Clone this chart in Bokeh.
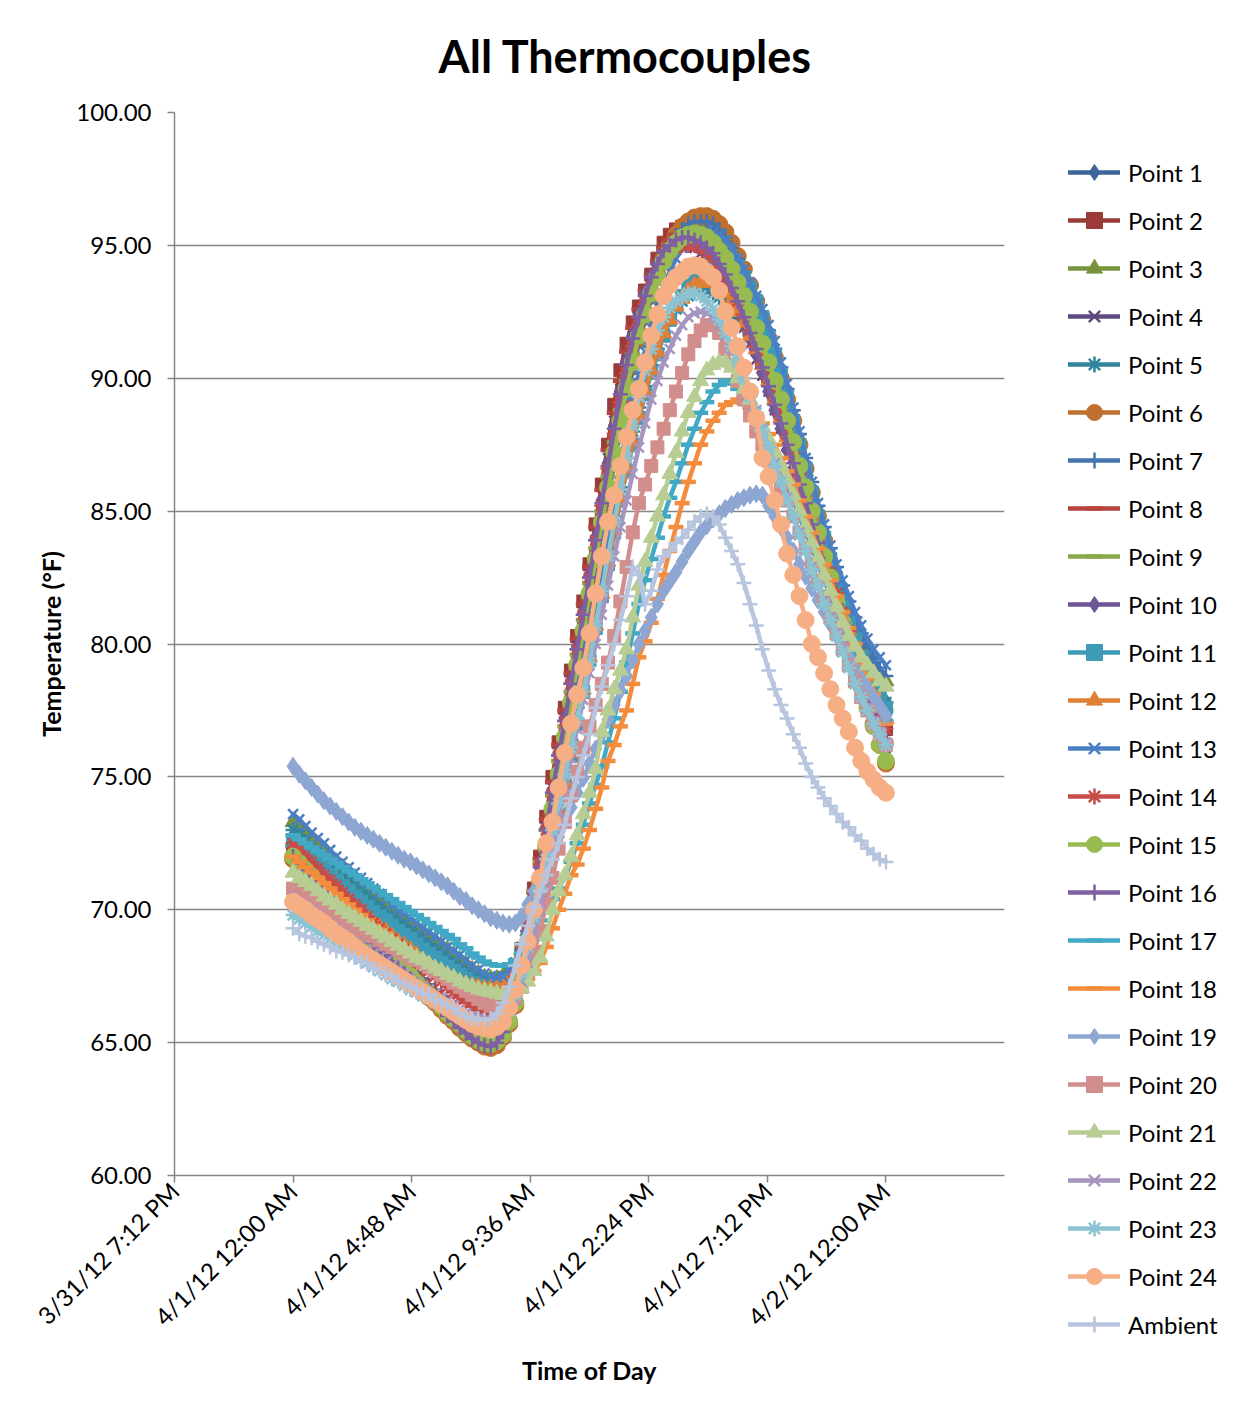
import math
from bokeh.plotting import figure
from bokeh.models import Range1d, FixedTicker, Legend, LegendItem, PrintfTickFormatter
from bokeh.embed import file_html
from bokeh.resources import INLINE

# ---------------- data: readings every 15 minutes from 4/1/12 12:00 AM to 4/2/12 12:00 AM ----------------
point_1 = [72.0, 71.8, 71.5, 71.2, 71.0, 70.7, 70.5, 70.2, 70.0, 69.7, 69.5, 69.2, 69.0, 68.8, 68.55, 68.3, 68.1, 67.9, 67.65, 67.4, 67.2, 67.0, 66.75, 66.5,
           66.3, 66.1, 65.85, 65.6, 65.4, 65.2, 65.05, 64.95, 64.9, 65.05, 65.4, 65.95, 66.7, 67.8, 69.0, 70.1, 71.3, 72.6, 73.9, 75.2, 76.5, 77.9, 79.2, 80.6,
           81.9, 83.2, 84.6, 86.0, 87.3, 88.5, 89.6, 90.7, 91.6, 92.5, 93.2, 93.9, 94.4, 94.9, 95.3, 95.6, 95.8, 95.95, 96.0, 95.95, 95.8, 95.5, 95.1, 94.6,
           94.1, 93.6, 93.0, 92.5, 91.9, 91.3, 90.6, 89.9, 89.1, 88.3, 87.5, 86.6, 85.8, 85.0, 84.2, 83.4, 82.7, 82.0, 81.3, 80.6, 80.0, 79.4, 78.9, 78.3, 77.8]
point_2 = [72.3, 72.05, 71.8, 71.55, 71.3, 71.05, 70.8, 70.55, 70.3, 70.05, 69.8, 69.55, 69.3, 69.05, 68.8, 68.6, 68.35, 68.1, 67.9, 67.65, 67.4, 67.2, 66.95, 66.7,
           66.5, 66.3, 66.05, 65.8, 65.55, 65.3, 65.15, 65.05, 65.0, 65.2, 65.6, 66.3, 67.3, 68.4, 69.6, 70.8, 72.0, 73.5, 75.0, 76.3, 77.6, 79.0, 80.3, 81.6,
           83.0, 84.5, 86.0, 87.5, 89.0, 90.3, 91.3, 92.1, 92.7, 93.3, 93.9, 94.5, 95.1, 95.4, 95.6, 95.7, 95.7, 95.65, 95.5, 95.3, 95.0, 94.6, 94.2, 93.7,
           93.2, 92.7, 92.1, 91.5, 90.9, 90.3, 89.6, 88.9, 88.2, 87.5, 86.7, 86.0, 85.2, 84.5, 83.7, 83.0, 82.3, 81.6, 80.9, 80.2, 79.6, 78.9, 78.2, 77.5, 76.8]
point_3 = [73.3, 73.1, 72.85, 72.6, 72.4, 72.2, 72.0, 71.8, 71.6, 71.4, 71.2, 71.0, 70.8, 70.6, 70.4, 70.2, 70.05, 69.9, 69.7, 69.5, 69.35, 69.2, 69.0, 68.8,
           68.65, 68.5, 68.3, 68.1, 67.95, 67.75, 67.6, 67.45, 67.4, 67.4, 67.5, 67.65, 67.9, 68.5, 69.2, 70.2, 71.2, 72.4, 73.6, 74.9, 76.2, 77.5, 78.9, 80.2,
           81.6, 82.9, 84.2, 85.5, 86.8, 88.0, 89.2, 90.3, 91.3, 92.2, 93.0, 93.7, 94.3, 94.8, 95.2, 95.45, 95.6, 95.65, 95.6, 95.5, 95.3, 95.0, 94.7, 94.3,
           93.8, 93.3, 92.8, 92.3, 91.7, 91.1, 90.4, 89.7, 88.9, 88.1, 87.3, 86.5, 85.6, 84.8, 84.0, 83.3, 82.6, 81.9, 81.3, 80.7, 80.2, 79.7, 79.3, 78.9, 78.6]
point_4 = [72.1, 71.85, 71.6, 71.35, 71.1, 70.85, 70.6, 70.35, 70.1, 69.85, 69.6, 69.35, 69.1, 68.9, 68.65, 68.4, 68.2, 68.0, 67.75, 67.5, 67.3, 67.1, 66.85, 66.6,
           66.4, 66.2, 65.95, 65.7, 65.5, 65.3, 65.1, 65.0, 64.95, 65.1, 65.5, 66.2, 67.1, 68.2, 69.4, 70.6, 71.8, 73.2, 74.6, 76.0, 77.3, 78.7, 80.0, 81.3,
           82.7, 84.2, 85.6, 87.0, 88.4, 89.6, 90.7, 91.6, 92.4, 93.1, 93.7, 94.2, 94.6, 94.85, 95.0, 95.05, 95.0, 94.9, 94.7, 94.5, 94.2, 93.8, 93.4, 92.9,
           92.4, 91.9, 91.3, 90.7, 90.1, 89.5, 88.8, 88.1, 87.4, 86.7, 85.9, 85.2, 84.4, 83.7, 82.9, 82.2, 81.5, 80.8, 80.1, 79.4, 78.8, 78.2, 77.6, 77.0, 76.5]
point_5 = [73.0, 72.8, 72.55, 72.3, 72.1, 71.9, 71.7, 71.5, 71.3, 71.1, 70.9, 70.7, 70.5, 70.3, 70.1, 69.9, 69.75, 69.6, 69.4, 69.2, 69.05, 68.9, 68.7, 68.5,
           68.35, 68.2, 68.0, 67.85, 67.7, 67.55, 67.45, 67.35, 67.3, 67.3, 67.4, 67.65, 68.0, 68.5, 69.2, 70.0, 70.9, 71.9, 73.0, 74.1, 75.3, 76.4, 77.6, 78.8,
           80.0, 81.2, 82.4, 83.6, 84.8, 85.9, 87.0, 88.0, 88.9, 89.7, 90.5, 91.1, 91.7, 92.2, 92.6, 92.9, 93.1, 93.25, 93.3, 93.3, 93.2, 93.05, 92.9, 92.6,
           92.3, 92.0, 91.6, 91.2, 90.7, 90.2, 89.6, 89.0, 88.3, 87.6, 86.9, 86.2, 85.4, 84.7, 83.9, 83.2, 82.5, 81.8, 81.2, 80.6, 80.0, 79.4, 78.9, 78.3, 77.8]
point_6 = [71.9, 71.65, 71.4, 71.15, 70.9, 70.65, 70.4, 70.15, 69.9, 69.65, 69.4, 69.2, 68.95, 68.7, 68.5, 68.3, 68.05, 67.8, 67.6, 67.4, 67.15, 66.9, 66.7, 66.5,
           66.25, 66.0, 65.8, 65.55, 65.35, 65.15, 65.0, 64.85, 64.8, 64.9, 65.2, 65.7, 66.4, 67.4, 68.6, 69.8, 71.0, 72.3, 73.6, 74.9, 76.3, 77.6, 79.0, 80.3,
           81.7, 83.0, 84.4, 85.7, 87.0, 88.2, 89.4, 90.5, 91.5, 92.4, 93.2, 93.9, 94.5, 95.0, 95.4, 95.7, 95.9, 96.05, 96.1, 96.1, 96.0, 95.8, 95.5, 95.1,
           94.6, 94.1, 93.5, 92.9, 92.2, 91.5, 90.8, 90.0, 89.2, 88.4, 87.5, 86.6, 85.7, 84.8, 83.9, 83.0, 82.1, 81.2, 80.4, 79.5, 78.7, 77.8, 77.0, 76.2, 75.5]
point_7 = [72.4, 72.15, 71.9, 71.65, 71.4, 71.15, 70.9, 70.65, 70.4, 70.15, 69.9, 69.7, 69.45, 69.2, 69.0, 68.8, 68.55, 68.3, 68.1, 67.9, 67.65, 67.4, 67.2, 67.0,
           66.75, 66.5, 66.3, 66.1, 65.85, 65.6, 65.4, 65.25, 65.2, 65.3, 65.5, 65.95, 66.6, 67.6, 68.7, 69.8, 71.0, 72.3, 73.6, 74.9, 76.2, 77.5, 78.9, 80.2,
           81.6, 83.0, 84.3, 85.6, 86.9, 88.1, 89.3, 90.4, 91.4, 92.3, 93.1, 93.8, 94.4, 94.9, 95.3, 95.6, 95.8, 95.9, 95.9, 95.9, 95.8, 95.6, 95.3, 94.9,
           94.5, 94.0, 93.5, 93.0, 92.4, 91.8, 91.1, 90.4, 89.6, 88.8, 87.9, 87.0, 86.1, 85.2, 84.4, 83.6, 82.9, 82.2, 81.6, 81.0, 80.4, 79.9, 79.5, 79.1, 78.8]
point_8 = [72.4, 72.15, 71.9, 71.65, 71.4, 71.15, 70.9, 70.65, 70.4, 70.15, 69.9, 69.65, 69.4, 69.15, 68.9, 68.7, 68.45, 68.2, 68.0, 67.8, 67.55, 67.3, 67.1, 66.9,
           66.65, 66.4, 66.2, 66.0, 65.75, 65.55, 65.35, 65.2, 65.15, 65.3, 65.7, 66.4, 67.2, 68.3, 69.5, 70.7, 71.9, 73.4, 74.8, 76.2, 77.5, 78.9, 80.2, 81.5,
           82.9, 84.4, 85.8, 87.3, 88.7, 89.9, 91.0, 91.9, 92.6, 93.3, 93.9, 94.4, 94.9, 95.2, 95.4, 95.45, 95.4, 95.3, 95.1, 94.9, 94.6, 94.2, 93.8, 93.3,
           92.8, 92.3, 91.7, 91.1, 90.5, 89.9, 89.2, 88.5, 87.8, 87.1, 86.3, 85.6, 84.8, 84.1, 83.3, 82.6, 81.8, 81.1, 80.4, 79.7, 79.0, 78.3, 77.6, 77.0, 76.3]
point_9 = [72.8, 72.6, 72.35, 72.1, 71.9, 71.7, 71.45, 71.2, 71.0, 70.8, 70.55, 70.3, 70.1, 69.9, 69.7, 69.5, 69.3, 69.1, 68.9, 68.7, 68.5, 68.3, 68.1, 67.9,
           67.7, 67.5, 67.3, 67.1, 66.95, 66.8, 66.65, 66.55, 66.5, 66.6, 66.8, 67.2, 67.8, 68.7, 69.7, 70.7, 71.8, 73.0, 74.3, 75.6, 76.9, 78.2, 79.6, 80.9,
           82.3, 83.6, 85.0, 86.3, 87.6, 88.8, 89.9, 90.9, 91.8, 92.6, 93.3, 93.9, 94.5, 94.9, 95.2, 95.4, 95.5, 95.55, 95.5, 95.4, 95.2, 94.9, 94.5, 94.1,
           93.6, 93.1, 92.6, 92.1, 91.5, 90.9, 90.2, 89.5, 88.7, 87.9, 87.1, 86.3, 85.5, 84.7, 83.9, 83.1, 82.4, 81.7, 81.0, 80.3, 79.7, 79.1, 78.5, 78.0, 77.5]
point_10 = [72.0, 71.75, 71.5, 71.25, 71.0, 70.75, 70.5, 70.25, 70.0, 69.75, 69.5, 69.25, 69.0, 68.8, 68.55, 68.3, 68.1, 67.9, 67.65, 67.4, 67.2, 67.0, 66.75, 66.5,
            66.3, 66.1, 65.85, 65.6, 65.4, 65.2, 65.05, 64.95, 64.9, 65.05, 65.4, 66.1, 67.0, 68.1, 69.3, 70.5, 71.7, 73.1, 74.5, 75.9, 77.2, 78.6, 79.9, 81.2,
            82.6, 84.0, 85.4, 86.8, 88.2, 89.5, 90.6, 91.6, 92.4, 93.2, 93.8, 94.3, 94.7, 94.95, 95.1, 95.2, 95.2, 95.15, 95.0, 94.8, 94.5, 94.1, 93.7, 93.2,
            92.7, 92.1, 91.5, 90.9, 90.2, 89.5, 88.8, 88.1, 87.3, 86.6, 85.8, 85.1, 84.3, 83.6, 82.8, 82.0, 81.3, 80.6, 79.9, 79.2, 78.5, 77.8, 77.2, 76.6, 76.0]
point_11 = [72.6, 72.4, 72.15, 71.9, 71.7, 71.5, 71.3, 71.1, 70.9, 70.7, 70.5, 70.3, 70.1, 69.9, 69.75, 69.6, 69.4, 69.2, 69.05, 68.9, 68.7, 68.5, 68.35, 68.2,
            68.0, 67.85, 67.7, 67.55, 67.4, 67.25, 67.15, 67.05, 67.0, 67.0, 67.1, 67.35, 67.7, 68.2, 68.9, 69.7, 70.5, 71.5, 72.5, 73.6, 74.7, 75.8, 77.0, 78.2,
            79.4, 80.6, 81.8, 83.0, 84.2, 85.4, 86.5, 87.5, 88.5, 89.4, 90.2, 90.9, 91.6, 92.2, 92.7, 93.1, 93.5, 93.8, 94.1, 94.3, 94.5, 94.6, 94.6, 94.45,
            94.2, 93.8, 93.4, 92.9, 92.3, 91.6, 90.9, 90.1, 89.3, 88.4, 87.5, 86.6, 85.7, 84.8, 84.0, 83.2, 82.4, 81.6, 80.9, 80.2, 79.5, 79.0, 78.5, 78.0, 77.6]
point_12 = [72.2, 72.0, 71.75, 71.5, 71.3, 71.1, 70.9, 70.7, 70.5, 70.3, 70.1, 69.9, 69.7, 69.5, 69.35, 69.2, 69.0, 68.8, 68.65, 68.5, 68.3, 68.1, 67.95, 67.8,
            67.65, 67.5, 67.4, 67.3, 67.2, 67.15, 67.1, 67.05, 67.05, 67.1, 67.2, 67.45, 67.8, 68.35, 69.0, 69.8, 70.6, 71.6, 72.6, 73.7, 74.8, 75.9, 77.1, 78.3,
            79.5, 80.7, 81.9, 83.1, 84.3, 85.5, 86.6, 87.6, 88.6, 89.5, 90.3, 91.0, 91.7, 92.2, 92.7, 93.0, 93.3, 93.5, 93.6, 93.65, 93.6, 93.4, 93.2, 92.9,
            92.5, 92.1, 91.6, 91.1, 90.5, 89.9, 89.2, 88.5, 87.8, 87.1, 86.3, 85.6, 84.8, 84.1, 83.3, 82.6, 81.8, 81.1, 80.5, 79.8, 79.2, 78.6, 78.1, 77.6, 77.2]
point_13 = [73.6, 73.4, 73.15, 72.9, 72.7, 72.5, 72.25, 72.0, 71.8, 71.6, 71.4, 71.2, 71.0, 70.8, 70.6, 70.4, 70.2, 70.0, 69.85, 69.7, 69.5, 69.3, 69.15, 69.0,
            68.8, 68.6, 68.45, 68.3, 68.1, 67.9, 67.75, 67.6, 67.5, 67.45, 67.5, 67.7, 68.0, 68.6, 69.3, 70.1, 71.0, 72.1, 73.2, 74.4, 75.6, 76.8, 78.1, 79.3,
            80.6, 81.8, 83.1, 84.3, 85.6, 86.8, 88.0, 89.1, 90.1, 91.0, 91.9, 92.7, 93.4, 94.0, 94.5, 94.9, 95.2, 95.4, 95.5, 95.55, 95.5, 95.4, 95.2, 94.9,
            94.5, 94.1, 93.6, 93.1, 92.6, 92.0, 91.4, 90.6, 89.8, 88.9, 88.0, 87.0, 86.1, 85.3, 84.5, 83.7, 83.0, 82.4, 81.8, 81.2, 80.7, 80.2, 79.8, 79.5, 79.2]
point_14 = [72.5, 72.25, 72.0, 71.8, 71.55, 71.3, 71.1, 70.9, 70.65, 70.4, 70.2, 70.0, 69.75, 69.5, 69.3, 69.1, 68.9, 68.7, 68.5, 68.3, 68.1, 67.9, 67.7, 67.5,
            67.3, 67.1, 66.9, 66.7, 66.5, 66.35, 66.2, 66.1, 66.0, 66.1, 66.3, 66.8, 67.5, 68.4, 69.5, 70.6, 71.7, 73.0, 74.4, 75.8, 77.1, 78.5, 79.8, 81.1,
            82.5, 83.9, 85.2, 86.6, 87.9, 89.1, 90.2, 91.2, 92.0, 92.8, 93.4, 93.9, 94.4, 94.7, 94.9, 95.0, 95.0, 95.0, 94.9, 94.7, 94.5, 94.2, 93.8, 93.4,
            92.9, 92.4, 91.8, 91.2, 90.6, 90.0, 89.3, 88.6, 87.9, 87.2, 86.4, 85.7, 84.9, 84.2, 83.4, 82.7, 81.9, 81.2, 80.5, 79.8, 79.1, 78.5, 77.9, 77.3, 76.8]
point_15 = [72.0, 71.75, 71.5, 71.25, 71.0, 70.75, 70.5, 70.25, 70.0, 69.75, 69.5, 69.3, 69.05, 68.8, 68.6, 68.4, 68.15, 67.9, 67.7, 67.5, 67.25, 67.0, 66.8, 66.6,
            66.35, 66.1, 65.9, 65.7, 65.45, 65.25, 65.1, 65.0, 64.95, 65.05, 65.3, 65.8, 66.5, 67.5, 68.7, 69.9, 71.1, 72.4, 73.8, 75.1, 76.5, 77.8, 79.2, 80.5,
            81.9, 83.2, 84.6, 85.9, 87.2, 88.4, 89.6, 90.6, 91.6, 92.4, 93.2, 93.8, 94.4, 94.8, 95.1, 95.3, 95.4, 95.45, 95.4, 95.3, 95.1, 94.8, 94.5, 94.1,
            93.6, 93.1, 92.5, 91.9, 91.3, 90.6, 89.9, 89.2, 88.4, 87.6, 86.7, 85.9, 85.0, 84.2, 83.3, 82.5, 81.6, 80.8, 80.0, 79.2, 78.4, 77.6, 76.9, 76.2, 75.6]
point_16 = [72.0, 71.75, 71.5, 71.25, 71.0, 70.75, 70.5, 70.25, 70.0, 69.75, 69.5, 69.25, 69.0, 68.75, 68.5, 68.3, 68.05, 67.8, 67.6, 67.4, 67.15, 66.9, 66.7, 66.5,
            66.25, 66.0, 65.8, 65.55, 65.35, 65.15, 65.0, 64.9, 64.85, 65.0, 65.4, 66.1, 66.9, 68.0, 69.2, 70.4, 71.6, 73.0, 74.4, 75.8, 77.1, 78.5, 79.8, 81.1,
            82.5, 83.9, 85.3, 86.7, 88.1, 89.4, 90.5, 91.5, 92.3, 93.1, 93.8, 94.3, 94.8, 95.0, 95.2, 95.3, 95.3, 95.2, 95.1, 94.9, 94.7, 94.3, 93.9, 93.4,
            92.9, 92.3, 91.7, 91.1, 90.4, 89.7, 89.0, 88.3, 87.5, 86.8, 86.0, 85.3, 84.5, 83.8, 83.0, 82.3, 81.5, 80.8, 80.1, 79.4, 78.7, 78.0, 77.4, 76.8, 76.2]
point_17 = [72.8, 72.65, 72.5, 72.35, 72.2, 72.05, 71.9, 71.75, 71.6, 71.45, 71.3, 71.15, 71.0, 70.85, 70.7, 70.55, 70.4, 70.25, 70.1, 69.95, 69.8, 69.65, 69.5, 69.35,
            69.2, 69.05, 68.9, 68.7, 68.55, 68.35, 68.2, 68.05, 67.95, 67.9, 67.9, 67.95, 68.1, 68.35, 68.7, 69.1, 69.6, 70.0, 70.4, 70.8, 71.2, 71.8, 72.5, 73.2,
            74.0, 74.7, 75.4, 76.3, 77.2, 78.2, 79.3, 80.4, 81.5, 82.4, 83.2, 84.0, 84.8, 85.5, 86.1, 86.8, 87.5, 88.1, 88.7, 89.1, 89.5, 89.75, 89.9, 89.8,
            89.6, 89.3, 88.9, 88.5, 88.0, 87.5, 87.0, 86.5, 85.9, 85.4, 84.8, 84.2, 83.6, 83.0, 82.4, 81.8, 81.2, 80.7, 80.1, 79.5, 79.0, 78.5, 78.0, 77.5, 77.1]
point_18 = [72.0, 71.8, 71.6, 71.4, 71.2, 71.0, 70.8, 70.6, 70.4, 70.2, 70.0, 69.8, 69.6, 69.4, 69.25, 69.1, 68.9, 68.7, 68.55, 68.4, 68.2, 68.05, 67.9, 67.75,
            67.6, 67.45, 67.3, 67.15, 67.05, 66.95, 66.9, 66.85, 66.8, 66.8, 66.8, 66.9, 67.0, 67.2, 67.4, 67.7, 68.0, 68.6, 69.3, 70.0, 70.6, 71.3, 71.7, 72.3,
            73.0, 73.8, 74.6, 75.6, 76.2, 76.9, 77.5, 78.5, 79.5, 80.1, 80.8, 81.7, 82.6, 83.5, 84.4, 85.3, 86.1, 86.8, 87.5, 88.0, 88.4, 88.7, 89.0, 89.1,
            89.2, 89.1, 88.9, 88.6, 88.3, 87.9, 87.5, 87.0, 86.5, 86.0, 85.4, 84.8, 84.2, 83.6, 83.0, 82.4, 81.8, 81.2, 80.6, 80.0, 79.3, 78.7, 78.1, 77.5, 77.0]
point_19 = [75.4, 75.1, 74.85, 74.6, 74.35, 74.1, 73.9, 73.7, 73.5, 73.3, 73.1, 72.95, 72.8, 72.65, 72.5, 72.35, 72.2, 72.05, 71.9, 71.8, 71.65, 71.5, 71.35, 71.2,
            71.05, 70.9, 70.7, 70.5, 70.35, 70.15, 70.0, 69.85, 69.7, 69.6, 69.5, 69.45, 69.5, 69.75, 70.2, 70.7, 71.2, 71.7, 72.2, 72.75, 73.3, 73.85, 74.4, 74.95,
            75.5, 76.05, 76.6, 77.15, 77.7, 78.25, 78.8, 79.4, 80.0, 80.5, 81.0, 81.5, 82.0, 82.35, 82.7, 83.1, 83.5, 83.85, 84.2, 84.45, 84.7, 84.9, 85.1, 85.25,
            85.4, 85.5, 85.6, 85.65, 85.6, 85.2, 84.8, 84.4, 84.0, 83.5, 83.0, 82.55, 82.1, 81.65, 81.2, 80.75, 80.3, 79.9, 79.5, 79.1, 78.7, 78.35, 78.0, 77.65, 77.3]
point_20 = [70.8, 70.65, 70.5, 70.35, 70.2, 70.05, 69.9, 69.75, 69.6, 69.5, 69.35, 69.2, 69.1, 69.0, 68.85, 68.7, 68.6, 68.5, 68.35, 68.2, 68.1, 68.0, 67.85, 67.7,
            67.55, 67.4, 67.25, 67.1, 66.95, 66.8, 66.65, 66.5, 66.4, 66.3, 66.3, 66.45, 66.7, 67.1, 67.7, 68.4, 69.2, 70.2, 71.2, 72.3, 73.3, 74.3, 75.2, 76.1,
            76.9, 77.7, 78.5, 79.3, 80.3, 81.6, 82.9, 84.2, 85.3, 86.0, 86.7, 87.4, 88.1, 88.8, 89.5, 90.2, 90.9, 91.4, 91.8, 92.0, 92.0, 91.7, 91.1, 90.5,
            89.9, 89.2, 88.6, 88.0, 87.5, 86.9, 86.4, 85.9, 85.4, 84.8, 84.2, 83.6, 83.0, 82.4, 81.7, 81.0, 80.4, 79.8, 79.2, 78.6, 78.0, 77.5, 77.0, 76.6, 76.2]
point_21 = [71.4, 71.2, 71.05, 70.9, 70.7, 70.5, 70.35, 70.2, 70.0, 69.85, 69.7, 69.55, 69.4, 69.25, 69.1, 68.95, 68.8, 68.65, 68.5, 68.35, 68.2, 68.1, 67.95, 67.8,
            67.7, 67.55, 67.45, 67.3, 67.2, 67.1, 67.0, 66.95, 66.9, 66.85, 66.8, 66.8, 66.9, 67.05, 67.3, 67.7, 68.2, 69.0, 70.0, 70.7, 71.3, 72.0, 72.8, 73.6,
            74.4, 75.3, 76.7, 77.5, 78.3, 79.0, 79.8, 81.0, 82.2, 83.1, 84.0, 84.8, 85.6, 86.4, 87.2, 88.0, 88.7, 89.3, 89.9, 90.3, 90.5, 90.6, 90.6, 90.4,
            90.0, 89.6, 89.2, 88.7, 88.2, 87.7, 87.2, 86.7, 86.2, 85.6, 85.0, 84.4, 83.8, 83.2, 82.6, 82.0, 81.4, 80.8, 80.3, 79.9, 79.5, 79.2, 78.9, 78.6, 78.4]
point_22 = [70.5, 70.3, 70.15, 70.0, 69.8, 69.6, 69.45, 69.3, 69.1, 68.95, 68.8, 68.65, 68.5, 68.35, 68.2, 68.05, 67.9, 67.75, 67.6, 67.45, 67.3, 67.15, 67.0, 66.85,
            66.7, 66.55, 66.4, 66.25, 66.1, 66.0, 65.9, 65.85, 65.8, 65.8, 65.9, 66.2, 66.6, 67.3, 68.0, 69.0, 70.0, 71.1, 72.3, 73.4, 74.6, 75.7, 76.8, 77.9,
            78.9, 80.0, 81.1, 82.2, 83.3, 84.4, 85.4, 86.4, 87.4, 88.3, 89.2, 89.9, 90.6, 91.1, 91.6, 92.0, 92.3, 92.45, 92.5, 92.45, 92.3, 92.0, 91.6, 91.1,
            90.6, 90.0, 89.4, 88.8, 88.1, 87.4, 86.8, 86.1, 85.5, 84.8, 84.2, 83.5, 82.9, 82.2, 81.6, 81.0, 80.4, 79.8, 79.2, 78.6, 78.1, 77.6, 77.1, 76.7, 76.3]
point_23 = [69.8, 69.65, 69.5, 69.35, 69.2, 69.05, 68.9, 68.75, 68.6, 68.45, 68.3, 68.15, 68.0, 67.85, 67.7, 67.55, 67.4, 67.3, 67.15, 67.0, 66.9, 66.75, 66.65, 66.5,
            66.4, 66.3, 66.15, 66.0, 65.9, 65.8, 65.7, 65.65, 65.6, 65.65, 65.8, 66.2, 66.8, 67.6, 68.6, 69.7, 70.8, 71.9, 73.0, 74.0, 75.1, 76.1, 77.2, 78.2,
            79.3, 80.7, 82.0, 83.3, 84.6, 85.8, 87.0, 88.2, 89.3, 90.3, 91.1, 91.8, 92.3, 92.65, 92.9, 93.05, 93.2, 93.2, 93.1, 92.9, 92.6, 92.2, 91.7, 91.2,
            90.6, 90.0, 89.3, 88.7, 88.0, 87.4, 86.7, 86.1, 85.4, 84.8, 84.1, 83.5, 82.8, 82.2, 81.5, 80.9, 80.3, 79.7, 79.1, 78.5, 78.0, 77.5, 77.0, 76.6, 76.2]
point_24 = [70.3, 70.15, 70.0, 69.8, 69.65, 69.5, 69.3, 69.1, 68.95, 68.8, 68.6, 68.4, 68.25, 68.1, 67.95, 67.8, 67.65, 67.5, 67.35, 67.2, 67.05, 66.9, 66.75, 66.6,
            66.45, 66.3, 66.15, 66.0, 65.85, 65.7, 65.6, 65.55, 65.5, 65.6, 65.8, 66.3, 67.0, 67.9, 68.8, 70.0, 71.2, 72.5, 73.3, 74.6, 75.9, 77.0, 78.1, 79.1,
            80.4, 81.9, 83.3, 84.6, 85.6, 86.7, 87.8, 88.8, 89.6, 90.6, 91.6, 92.4, 93.1, 93.5, 93.8, 94.0, 94.2, 94.25, 94.2, 94.0, 93.8, 93.3, 92.5, 91.9,
            91.2, 90.4, 89.5, 88.5, 87.0, 86.3, 85.4, 84.5, 83.4, 82.6, 81.8, 80.9, 80.0, 79.5, 78.9, 78.3, 77.7, 77.2, 76.7, 76.1, 75.6, 75.2, 74.9, 74.6, 74.4]
ambient = [69.3, 69.1, 69.0, 68.95, 68.8, 68.7, 68.6, 68.45, 68.4, 68.3, 68.2, 68.05, 68.0, 67.8, 67.7, 67.6, 67.5, 67.3, 67.2, 67.1, 67.0, 66.85, 66.8, 66.6,
           66.5, 66.4, 66.3, 66.1, 66.0, 65.9, 65.9, 65.85, 65.9, 66.1, 66.5, 67.1, 67.9, 68.7, 69.4, 70.1, 70.7, 71.3, 71.9, 72.5, 73.2, 74.2, 75.0, 75.8,
           76.6, 77.6, 78.4, 79.2, 80.0, 80.9, 81.8, 82.9, 82.6, 81.5, 82.0, 82.8, 83.3, 83.5, 83.8, 84.0, 84.3, 84.6, 84.8, 84.9, 84.8, 84.5, 84.0, 83.5,
           83.0, 82.3, 81.5, 80.7, 79.8, 79.0, 78.3, 77.7, 77.2, 76.6, 76.1, 75.5, 75.0, 74.6, 74.2, 73.9, 73.6, 73.3, 73.1, 72.8, 72.6, 72.3, 72.1, 71.9, 71.8]

sample_step_hours = 0.25  # hours after 4/1/12 12:00 AM between readings

x_tick_hours = [-4.8, 0.0, 4.8, 9.6, 14.4, 19.2, 24.0]
x_tick_labels = ["3/31/12 7:12 PM", "4/1/12 12:00 AM", "4/1/12 4:48 AM", "4/1/12 9:36 AM",
                 "4/1/12 2:24 PM", "4/1/12 7:12 PM", "4/2/12 12:00 AM"]
y_ticks = [60, 65, 70, 75, 80, 85, 90, 95, 100]

series = [
    ("Point 1", point_1, "#3C659B", "diamond"),
    ("Point 2", point_2, "#9B3B38", "square"),
    ("Point 3", point_3, "#77933C", "triangle"),
    ("Point 4", point_4, "#5F4A80", "x"),
    ("Point 5", point_5, "#31859C", "asterisk"),
    ("Point 6", point_6, "#C0702E", "circle"),
    ("Point 7", point_7, "#4575B0", "cross"),
    ("Point 8", point_8, "#B5443F", "dash"),
    ("Point 9", point_9, "#8AA84B", "dash"),
    ("Point 10", point_10, "#6E5596", "diamond"),
    ("Point 11", point_11, "#3D9BB8", "square"),
    ("Point 12", point_12, "#E07F36", "triangle"),
    ("Point 13", point_13, "#4A7FC4", "x"),
    ("Point 14", point_14, "#C74B48", "asterisk"),
    ("Point 15", point_15, "#98BB50", "circle"),
    ("Point 16", point_16, "#7E60A2", "cross"),
    ("Point 17", point_17, "#41A9C6", "dash"),
    ("Point 18", point_18, "#F48C3C", "dash"),
    ("Point 19", point_19, "#8EA7D2", "diamond"),
    ("Point 20", point_20, "#D28E8C", "square"),
    ("Point 21", point_21, "#B7CD93", "triangle"),
    ("Point 22", point_22, "#A595BF", "x"),
    ("Point 23", point_23, "#8CC3D3", "asterisk"),
    ("Point 24", point_24, "#F6AF85", "circle"),
    ("Ambient", ambient, "#B8C5DF", "cross"),
]

marker_style = {
    "diamond": dict(marker="diamond", size=18, line_width=1),
    "square": dict(marker="square", size=13, line_width=1),
    "triangle": dict(marker="triangle", size=16, line_width=1),
    "x": dict(marker="x", size=14, line_width=2.5),
    "asterisk": dict(marker="asterisk", size=15, line_width=2.5),
    "circle": dict(marker="circle", size=17, line_width=1),
    "cross": dict(marker="cross", size=15, line_width=2.5),
    "dash": dict(marker="dash", size=15, line_width=4.5),
}

FONT = "Lato"
GRID = "#868686"
LINE_W = 4.5
FRAME_L, FRAME_T = 174, 112
FRAME_W, FRAME_H = 830, 1063
BOTTOM = 245

p = figure(frame_width=FRAME_W, frame_height=FRAME_H, output_backend="svg", toolbar_location=None,
           x_range=Range1d(-4.8, 28.8), y_range=Range1d(60, 100),
           min_border_left=FRAME_L, min_border_right=0,
           min_border_top=FRAME_T, min_border_bottom=BOTTOM)
p.outline_line_color = None
p.background_fill_color = "white"
p.border_fill_color = "white"

p.title.text = "All Thermocouples"
p.title.text_font = FONT
p.title.text_font_style = "bold"
p.title.text_font_size = "45px"
p.title.text_color = "black"
p.title.align = "left"
p.title.offset = 264
p.title.standoff = 56
p.title.vertical_align = "top"

p.xgrid.visible = False
p.ygrid.ticker = FixedTicker(ticks=y_ticks)
p.ygrid.grid_line_color = GRID
p.ygrid.grid_line_width = 1.5

p.xaxis.ticker = FixedTicker(ticks=x_tick_hours)
p.xaxis.major_label_overrides = {h: lab for h, lab in zip(x_tick_hours, x_tick_labels)}
p.xaxis.major_label_orientation = math.pi / 4
p.yaxis.ticker = FixedTicker(ticks=y_ticks)
p.yaxis.formatter = PrintfTickFormatter(format="%.2f")

for ax in (p.xaxis, p.yaxis):
    ax.axis_line_color = GRID
    ax.axis_line_width = 1.5
    ax.major_tick_line_color = GRID
    ax.major_tick_line_width = 1.5
    ax.major_tick_out = 7
    ax.major_tick_in = 0
    ax.minor_tick_out = 0
    ax.minor_tick_in = 0
    ax.major_label_text_font = FONT
    ax.major_label_text_font_size = "24px"
    ax.major_label_text_color = "black"
    ax.axis_label_text_font = FONT
    ax.axis_label_text_font_size = "25px"
    ax.axis_label_text_font_style = "bold"
    ax.axis_label_text_color = "black"

p.yaxis.major_label_standoff = 16
p.xaxis.major_label_standoff = 4
p.yaxis.axis_label = "Temperature (°F)"
p.xaxis.axis_label = "Time of Day"
p.yaxis.axis_label_standoff = 7
p.xaxis.axis_label_standoff = 11

items = []
for name, vals, color, mk in series:
    hrs = [k * sample_step_hours for k in range(len(vals))]
    st = dict(marker_style[mk])
    ln = p.line(hrs, vals, line_color=color, line_width=LINE_W, line_join="round", line_cap="round")
    sc = p.scatter(hrs, vals, fill_color=color, line_color=color, **st)
    items.append(LegendItem(label=name, renderers=[ln, sc]))

legend = Legend(items=items, location=(64, -169), orientation="vertical",
                glyph_width=52, glyph_height=40, label_height=28, spacing=8,
                padding=0, margin=0, label_standoff=8,
                label_text_font=FONT, label_text_font_size="24px", label_text_color="black",
                background_fill_alpha=0, border_line_alpha=0)
p.add_layout(legend, "right")

open("out.html", "w").write(file_html(p, INLINE))
